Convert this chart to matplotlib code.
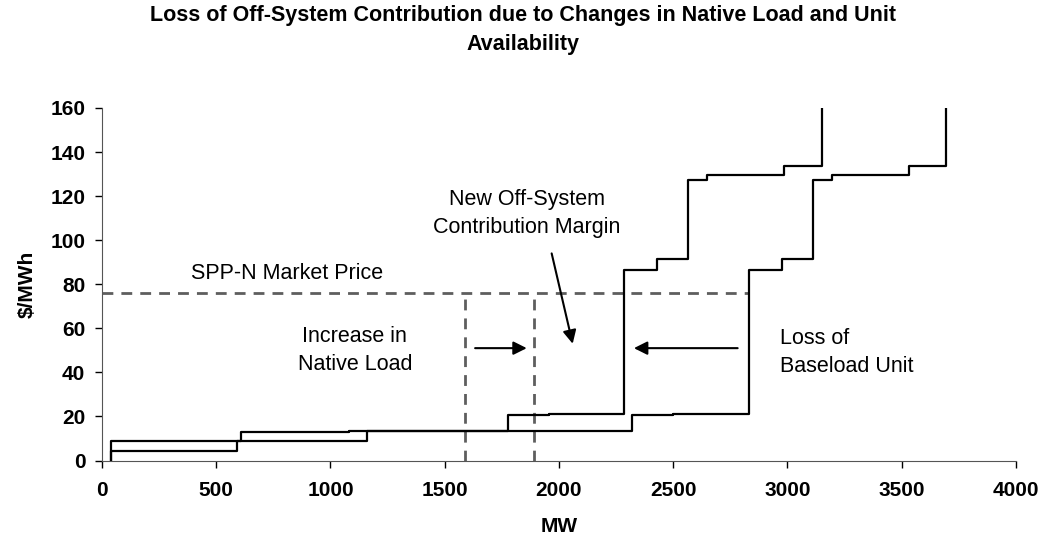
import numpy as np
import matplotlib
matplotlib.use('Agg')
import matplotlib.pyplot as plt

plt.rcParams['font.family'] = ['Liberation Sans', 'DejaVu Sans']

# Supply stacks: block edges (MW) and price of each block ($/MWh)
new_mw = [40, 610, 1080, 1775, 1955, 2285, 2430, 2565, 2650, 2985, 3150]
new_price = [9, 12.8, 13.2, 20.8, 21.2, 86.5, 91.5, 127.5, 129.5, 133.5]
orig_mw = [40, 590, 1160, 2320, 2500, 2832, 2975, 3110, 3195, 3530, 3695]
orig_price = [4.5, 9, 13.2, 20.8, 21.2, 86.5, 91.5, 127.5, 129.5, 133.5]

market_price = 76
load_before = 1590
load_after = 1890

x_ticks = [0, 500, 1000, 1500, 2000, 2500, 3000, 3500, 4000]
y_ticks = [0, 20, 40, 60, 80, 100, 120, 140, 160]

fig = plt.figure(figsize=(10.45, 5.47), dpi=100)
ax = fig.add_axes([0.0976, 0.1581, 0.8746, 0.6445])

# stacks start at zero and run off the top of the chart
for mw, price in [(new_mw, new_price), (orig_mw, orig_price)]:
    xs = np.r_[mw[0], mw]
    ys = np.r_[0, price, 200]
    ax.step(xs, ys, where='post', color='black', lw=1.6, zorder=3)

dash_kw = dict(color='#5e5e5e', lw=2.0, dashes=(3.9, 2.9), zorder=2)
ax.plot([0, orig_mw[5]], [market_price, market_price], **dash_kw)
ax.plot([load_before, load_before], [0, market_price], **dash_kw)
ax.plot([load_after, load_after], [0, market_price], **dash_kw)

arrow_kw = dict(arrowstyle='-|>', color='black', lw=1.5, mutation_scale=20,
                shrinkA=0, shrinkB=0)
ax.annotate('', xy=(1859, 51), xytext=(1633, 51), arrowprops=arrow_kw)
ax.annotate('', xy=(2328, 51), xytext=(2782, 51), arrowprops=arrow_kw)
ax.annotate('', xy=(2060, 53), xytext=(1968, 94), arrowprops=arrow_kw)

txt = dict(fontsize=15.5, color='black')
ax.text(808, 85, 'SPP-N Market Price', ha='center', va='center', **txt)
ax.text(1107, 50, 'Increase in\nNative Load', ha='center', va='center',
        linespacing=1.4, **txt)
ax.text(1859, 112, 'New Off-System\nContribution Margin', ha='center',
        va='center', linespacing=1.45, **txt)
ax.text(2967, 49, 'Loss of\nBaseload Unit', ha='left', va='center',
        linespacing=1.4, **txt)

ax.set_xlim(0, 4000)
ax.set_ylim(0, 160)
ax.set_xticks(x_ticks)
ax.set_yticks(y_ticks)
ax.tick_params(labelsize=15, length=5, width=1, direction='out')
ax.tick_params(axis='x', pad=10)
ax.tick_params(axis='y', pad=7)
for lab in ax.get_xticklabels() + ax.get_yticklabels():
    lab.set_fontweight('bold')

ax.spines['top'].set_visible(False)
ax.spines['right'].set_visible(False)
ax.spines['left'].set_color('#555555')
ax.spines['bottom'].set_color('#555555')

ax.set_xlabel('MW', fontsize=15, fontweight='bold', labelpad=12)
ax.set_ylabel('$/MWh', fontsize=15, fontweight='bold', labelpad=10)

fig.suptitle('Loss of Off-System Contribution due to Changes in Native Load and Unit\nAvailability',
             fontsize=15.5, fontweight='bold', x=0.5, y=0.99, linespacing=1.5)

fig.savefig('out.png', dpi=100)
